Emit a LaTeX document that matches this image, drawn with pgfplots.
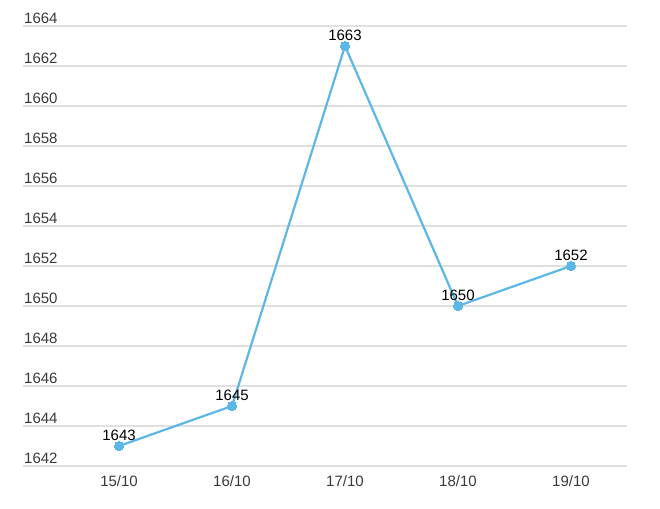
\documentclass[border=0pt]{standalone}
\usepackage{pgfplots}
\pgfplotsset{compat=1.18}
\usetikzlibrary{calc}
\usepackage{fontspec}
\setmainfont{Liberation Sans}
\definecolor{lineblue}{HTML}{5DB7E6}
\definecolor{gridgray}{HTML}{E0E0E0}
\definecolor{ticktext}{HTML}{3A3A3A}
\begin{document}
\begin{tikzpicture}
\begin{axis}[
  scale only axis,
  width=604pt, height=440pt,
  xmin=-0.85, xmax=4.496,
  ymin=1642, ymax=1664,
  ytick={1642,1644,...,1664},
  xtick={0,1,2,3,4},
  xticklabels={15/10,16/10,17/10,18/10,19/10},
  axis line style={draw=none},
  major tick length=0pt,
  ymajorgrids=true,
  grid style={gridgray, line width=1.3pt},
  yticklabel style={anchor=south west, inner sep=1pt, xshift=0pt, yshift=1pt, text=ticktext, font=\fontsize{15}{17}\selectfont},
  xticklabel style={text=ticktext, font=\fontsize{15}{17}\selectfont, yshift=-6pt},
  /pgf/number format/assume math mode=true,
  /pgf/number format/1000 sep={},
  nodes near coords,
  every node near coord/.style={font=\fontsize{15}{17}\selectfont, text=black, anchor=south, yshift=2pt},
  clip=false,
]
\addplot[color=lineblue, line width=2.2pt, mark=*, mark size=4.6pt, mark options={fill=lineblue, draw=lineblue, line width=0pt}]
  coordinates {(0,1643) (1,1645) (2,1663) (3,1650) (4,1652)};
\end{axis}
\pgfresetboundingbox
\path ($(current axis.south west)+(-23pt,-43pt)$) rectangle ($(current axis.north east)+(33pt,26pt)$);
\end{tikzpicture}
\end{document}
